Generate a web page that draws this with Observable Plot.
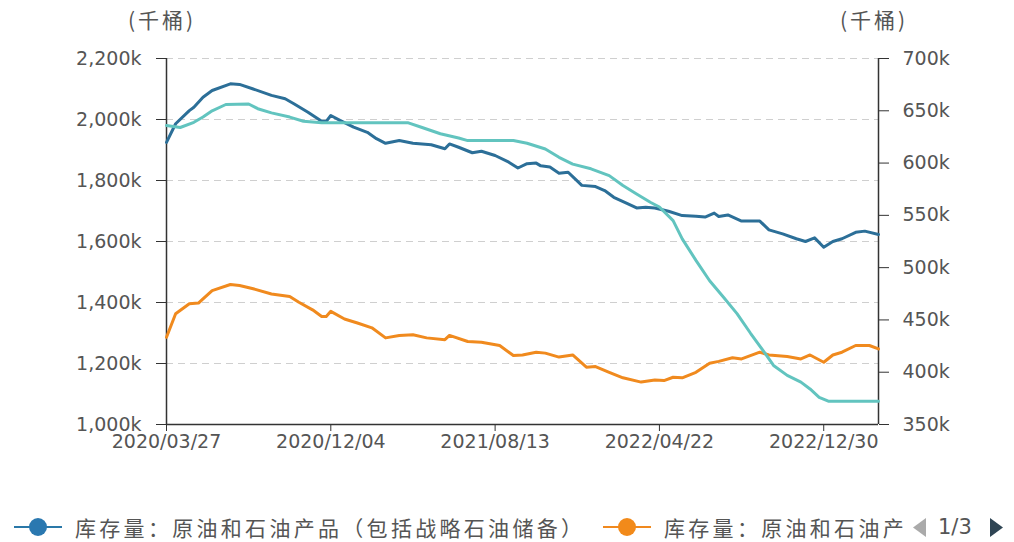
<!DOCTYPE html>
<html><head><meta charset="utf-8">
<script src="https://cdn.jsdelivr.net/npm/d3@7"></script>
<script src="https://cdn.jsdelivr.net/npm/@observablehq/plot@0.6"></script>
<style>
body{margin:0;background:#fff;}
#wrap{position:relative;width:1014px;height:542px;overflow:hidden;font-family:"Noto Sans CJK SC",sans-serif;background:#fff;}
.unit{position:absolute;top:4px;font-size:21px;letter-spacing:3px;color:#555;white-space:nowrap;}
#chart{position:absolute;left:0;top:40px;}
.leg{position:absolute;top:512px;height:30px;white-space:nowrap;}
.leg .ln{position:absolute;top:14px;left:0;width:48px;height:2px;}
.leg .dot{position:absolute;top:6px;left:15px;width:18px;height:18px;border-radius:50%;}
.leg .tx{position:absolute;top:0;left:61px;font-size:21px;letter-spacing:3.3px;color:#555;line-height:30px;}
.tri{position:absolute;top:512px;}
#page{position:absolute;top:512px;left:938px;font-family:"DejaVu Sans",sans-serif;font-size:21px;color:#555;line-height:30px;white-space:nowrap;}
</style></head>
<body>
<div id="wrap">
  <div class="unit" style="left:128px;">(千桶)</div>
  <div class="unit" style="left:840px;">(千桶)</div>
  <div id="chart"></div>
  <div class="leg" style="left:14px;">
    <div class="ln" style="background:#2a78a8;"></div>
    <div class="dot" style="background:#2a78b0;"></div>
    <div class="tx" id="leg1"></div>
  </div>
  <div class="leg" style="left:603px;">
    <div class="ln" style="background:#f0891e;"></div>
    <div class="dot" style="background:#f28a1a;"></div>
    <div class="tx" id="leg2"></div>
  </div>
  <svg class="tri" width="16" height="30" style="left:911px;">
    <polygon points="15,6 15,25 2,15.5" fill="#aaaaaa"></polygon>
  </svg>
  <div id="page"></div>
  <svg class="tri" width="16" height="30" style="left:989px;">
    <polygon points="1,6 1,25 14,15.5" fill="#2f4554"></polygon>
  </svg>
</div>
<script>
// ---- data (thousand barrels) ----
const seriesNames = ["库存量：原油和石油产品（包括战略石油储备）", "库存量：原油和石油产品（不包括战略石油储备）", "库存量：战略石油储备"];
const legendShown = ["库存量：原油和石油产品（包括战略石油储备）", "库存量：原油和石油产"]; // second entry is truncated in the legend strip
const pageLabel = "1/3";
const unitLabel = "(千桶)";

const xDomain = ["2020-03-27", "2023-03-24"];
const xTicks = ["2020-03-27", "2020-12-04", "2021-08-13", "2022-04-22", "2022-12-30"];
const leftTicks = [1000, 1200, 1400, 1600, 1800, 2000, 2200];
const rightTicks = [350, 400, 450, 500, 550, 600, 650, 700];

const totalDates = ["2020-03-27","2020-04-10","2020-05-01","2020-05-08","2020-05-22","2020-06-05","2020-07-03","2020-07-17","2020-08-07","2020-09-04","2020-09-25","2020-10-09","2020-10-30","2020-11-20","2020-11-27","2020-12-04","2020-12-18","2021-01-08","2021-01-29","2021-02-12","2021-02-26","2021-03-19","2021-04-09","2021-05-07","2021-05-28","2021-06-04","2021-06-18","2021-07-09","2021-07-23","2021-08-13","2021-09-03","2021-09-17","2021-10-01","2021-10-15","2021-10-22","2021-11-05","2021-11-19","2021-12-03","2021-12-10","2021-12-24","2022-01-14","2022-01-28","2022-02-11","2022-03-04","2022-03-18","2022-04-01","2022-04-15","2022-05-06","2022-05-27","2022-06-17","2022-07-01","2022-07-15","2022-07-22","2022-08-05","2022-08-26","2022-09-23","2022-10-07","2022-10-28","2022-11-18","2022-12-02","2022-12-16","2022-12-30","2023-01-13","2023-01-27","2023-02-17","2023-03-03","2023-03-24"];
const totalValues = [1925,1986,2029,2040,2073,2095,2117,2115,2100,2079,2068,2051,2024,1994,1994,2013,1997,1975,1958,1937,1922,1931,1922,1917,1904,1920,1909,1891,1896,1882,1860,1841,1855,1857,1848,1844,1824,1827,1813,1784,1780,1767,1745,1724,1710,1712,1710,1699,1685,1683,1680,1693,1682,1687,1667,1667,1638,1625,1609,1600,1612,1581,1600,1609,1630,1634,1623];

const commercialDates = ["2020-03-27","2020-04-10","2020-05-01","2020-05-15","2020-05-22","2020-06-05","2020-07-03","2020-07-17","2020-08-07","2020-09-04","2020-10-02","2020-10-16","2020-11-06","2020-11-20","2020-11-27","2020-12-04","2020-12-25","2021-01-15","2021-02-05","2021-02-26","2021-03-19","2021-04-09","2021-04-30","2021-05-28","2021-06-04","2021-07-02","2021-07-23","2021-08-20","2021-09-10","2021-09-24","2021-10-15","2021-10-29","2021-11-19","2021-12-10","2021-12-31","2022-01-14","2022-02-04","2022-02-25","2022-03-25","2022-04-15","2022-04-29","2022-05-13","2022-05-27","2022-06-17","2022-07-08","2022-07-22","2022-08-12","2022-08-26","2022-09-23","2022-10-07","2022-11-04","2022-11-25","2022-12-09","2022-12-30","2023-01-13","2023-01-27","2023-02-17","2023-03-10","2023-03-24"];
const commercialValues = [1286,1363,1396,1398,1412,1439,1459,1456,1445,1428,1420,1401,1376,1354,1354,1371,1346,1332,1317,1284,1292,1294,1284,1278,1292,1272,1270,1259,1226,1228,1237,1234,1221,1228,1188,1190,1171,1153,1139,1146,1144,1155,1153,1171,1201,1207,1219,1215,1237,1228,1223,1215,1228,1204,1228,1237,1259,1259,1248];

const sprDates = ["2020-03-27","2020-04-17","2020-05-08","2020-05-22","2020-06-05","2020-06-26","2020-07-31","2020-08-14","2020-09-04","2020-10-02","2020-10-23","2020-11-20","2021-04-02","2021-04-23","2021-05-21","2021-06-18","2021-07-02","2021-09-10","2021-10-01","2021-10-29","2021-11-19","2021-12-10","2022-01-07","2022-02-04","2022-02-25","2022-03-18","2022-04-08","2022-04-22","2022-05-13","2022-05-27","2022-06-17","2022-07-08","2022-07-29","2022-08-19","2022-09-09","2022-09-30","2022-10-14","2022-11-04","2022-11-25","2022-12-09","2022-12-23","2023-01-06","2023-03-24"];
const sprValues = [636,634,639,644,650,656,656.5,652,648,644,640,638.5,638.5,634,628,624,621.5,621.5,619,613.5,605.5,599,594.5,588,578.5,570.5,562.5,558,545,527.5,507,487.5,472,456,437,419,406.5,397,390.5,384,376,372.3,372.3];

const colors = ["#2c6f98", "#f08a1e", "#62c4bf"];

// ---- build ----
const parse = d3.utcParse("%Y-%m-%d");
const toLeft = v => 1000 + (v - 350) * 1200 / 350;
const fromLeft = v => 350 + (v - 1000) * 350 / 1200;
const fmtK = v => d3.format(",")(Math.round(v)) + "k";
const rows = (ds, vs) => ds.map((d, i) => ({date: parse(d), value: vs[i]}));
const total = rows(totalDates, totalValues);
const commercial = rows(commercialDates, commercialValues);
const spr = rows(sprDates, sprValues);

document.getElementById("leg1").textContent = legendShown[0];
document.getElementById("leg2").textContent = legendShown[1];
document.querySelectorAll(".unit").forEach(e => e.textContent = unitLabel);
document.getElementById("page").textContent = pageLabel;

const chart = Plot.plot({
  width: 1014, height: 424,
  marginLeft: 166, marginRight: 136, marginTop: 18, marginBottom: 40,
  style: {fontFamily: '"DejaVu Sans", sans-serif', fontSize: "19px", background: "transparent", overflow: "visible"},
  x: {type: "utc", domain: xDomain.map(parse)},
  y: {domain: [1000, 2200]},
  marks: [
    Plot.ruleY(leftTicks.slice(1), {stroke: "#cfcfcf", strokeDasharray: "7,5", strokeWidth: 1}),
    Plot.axisY({anchor: "left", ticks: leftTicks, tickFormat: fmtK, tickSize: 10, tickPadding: 15, label: null, stroke: "#333", fill: "#555"}),
    Plot.axisY({anchor: "right", ticks: rightTicks.map(toLeft), tickFormat: d => fmtK(fromLeft(d)), tickSize: 10, tickPadding: 14, label: null, stroke: "#333", fill: "#555"}),
    Plot.axisX({ticks: xTicks.map(parse), tickFormat: d3.utcFormat("%Y/%m/%d"), tickSize: 7, tickPadding: 3, label: null, stroke: "#333", fill: "#555"}),
    Plot.ruleX([parse(xDomain[0])], {stroke: "#333", strokeWidth: 1.5}),
    Plot.ruleX([parse(xDomain[1])], {stroke: "#333", strokeWidth: 1.5}),
    Plot.ruleY([1000], {stroke: "#333", strokeWidth: 1.5}),
    Plot.line(total, {x: "date", y: "value", stroke: colors[0], strokeWidth: 3, strokeLinejoin: "round"}),
    Plot.line(commercial, {x: "date", y: "value", stroke: colors[1], strokeWidth: 3, strokeLinejoin: "round"}),
    Plot.line(spr, {x: "date", y: d => toLeft(d.value), stroke: colors[2], strokeWidth: 3, strokeLinejoin: "round"})
  ]
});
document.getElementById("chart").appendChild(chart);
</script>
</body></html>
